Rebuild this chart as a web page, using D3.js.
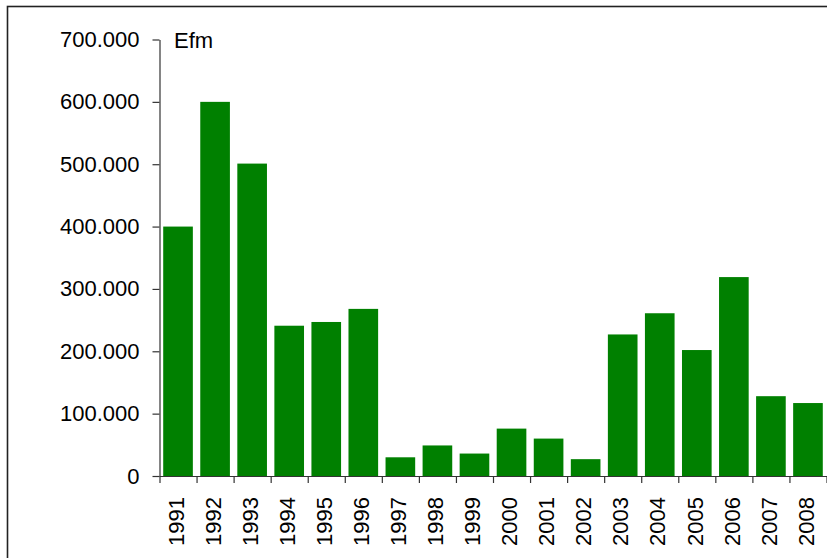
<!DOCTYPE html>
<html>
<head>
<meta charset="utf-8">
<script src="https://cdn.jsdelivr.net/npm/d3@7/dist/d3.min.js"></script>
<style>
  html, body { margin: 0; padding: 0; background: #fff; }
  svg { display: block; }
  text { font-family: "Liberation Sans", Arial, sans-serif; fill: #000; }
</style>
</head>
<body>
<script>
// Annual amounts, 1991–2008
const years = ["1991", "1992", "1993", "1994", "1995", "1996", "1997", "1998", "1999",
               "2000", "2001", "2002", "2003", "2004", "2005", "2006", "2007", "2008"];
const amounts = [400000, 600000, 501000, 241000, 247000, 268000, 30000, 49000, 36000,
                 76000, 60000, 27000, 227000, 261000, 202000, 319000, 128000, 117000];
const yTickValues = [0, 100000, 200000, 300000, 400000, 500000, 600000, 700000];
const unitLabel = "Efm";

const W = 827, H = 558;
const plot = { left: 159.5, right: 826.5, top: 39.5, bottom: 476 };
const barColor = "#008000";
const axisColor = "#333";

const svg = d3.select("body").append("svg").attr("width", W).attr("height", H);

// outer frame (extends past the right and bottom edges)
svg.append("rect")
  .attr("x", 7.5).attr("y", 6.5)
  .attr("width", 840).attr("height", 570)
  .attr("fill", "none").attr("stroke", "#222").attr("stroke-width", 1.6);

const x = d3.scaleBand()
  .domain(years)
  .range([plot.left, plot.right])
  .paddingInner(0.2)
  .paddingOuter(0.1);

const y = d3.scaleLinear()
  .domain([0, 700000])
  .range([plot.bottom, plot.top]);

// number format with "." as thousands separator
const loc = d3.formatLocale({ decimal: ",", thousands: ".", grouping: [3], currency: ["", ""] });
const fmt = loc.format(",d");

// bars
svg.append("g")
  .selectAll("rect")
  .data(years)
  .join("rect")
  .attr("x", d => x(d))
  .attr("width", x.bandwidth())
  .attr("y", (d, i) => y(amounts[i]))
  .attr("height", (d, i) => y(0) - y(amounts[i]))
  .attr("fill", barColor);

// y axis
const yAxis = svg.append("g")
  .attr("transform", `translate(${plot.left},0)`)
  .call(d3.axisLeft(y).tickValues(yTickValues).tickFormat(fmt).tickSize(7).tickSizeOuter(0).tickPadding(13));
yAxis.select(".domain").attr("stroke", axisColor).attr("stroke-width", 1.2);
yAxis.selectAll(".tick line").attr("stroke", axisColor).attr("stroke-width", 1.2);
yAxis.selectAll(".tick text")
  .attr("font-size", 22)
  .attr("font-family", "Liberation Sans, Arial, sans-serif")
  .attr("fill", "#000");

// x axis: tick marks on category boundaries
const edge = d3.scaleLinear().domain([0, years.length]).range([plot.left, plot.right]);
const xEdges = svg.append("g")
  .attr("transform", `translate(0,${plot.bottom})`)
  .call(d3.axisBottom(edge).tickValues(d3.range(0, years.length + 1)).tickFormat("").tickSize(7).tickSizeOuter(0));
xEdges.select(".domain").attr("stroke", axisColor).attr("stroke-width", 1.2);
xEdges.selectAll(".tick line").attr("stroke", axisColor).attr("stroke-width", 1.2);

// x axis: rotated year labels
const xLabels = svg.append("g")
  .attr("transform", `translate(0,${plot.bottom})`)
  .call(d3.axisBottom(x).tickSize(0).tickPadding(0));
xLabels.select(".domain").remove();
xLabels.selectAll(".tick text")
  .attr("font-size", 22)
  .attr("font-family", "Liberation Sans, Arial, sans-serif")
  .attr("fill", "#000")
  .attr("transform", "rotate(-90)")
  .attr("text-anchor", "end")
  .attr("x", -21)
  .attr("y", -2)
  .attr("dy", "0.35em");

// unit label
svg.append("text")
  .attr("x", 174)
  .attr("y", 48)
  .attr("font-size", 22)
  .text(unitLabel);
</script>
</body>
</html>
